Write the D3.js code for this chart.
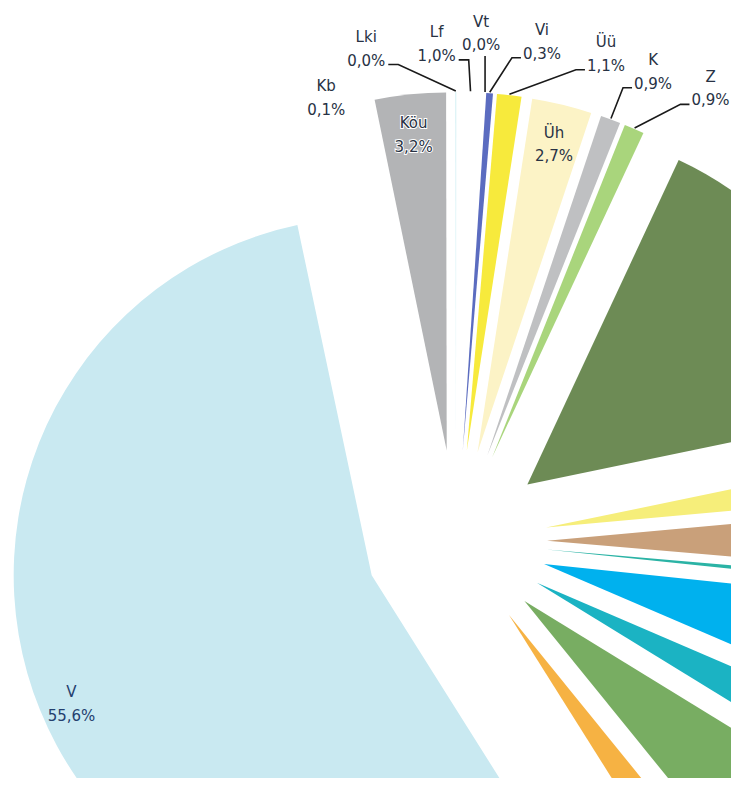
<!DOCTYPE html>
<html>
<head>
<meta charset="utf-8">
<script src="https://cdn.jsdelivr.net/npm/d3@7"></script>
<style>
  body { margin: 0; background: #fff; }
  text { font-family: "DejaVu Sans", Verdana, sans-serif; font-size: 15px; }
</style>
</head>
<body>
<div id="chart"></div>
<script>
// Data (shares in %), clockwise starting from the big "V" slice.
// Names of the slices on the right are outside the cropped picture.
var categories = ["V", "Kb", "Köu", "Lki", "Lf", "Vt", "Vi", "Üü", "Üh", "K", "Z",
                  "s12", "s13", "s14", "s15", "s16", "s17", "s18", "s19"];
var shares = [55.6, 0.1, 3.2, 0.04, 1.0, 0.03, 0.3, 1.1, 2.7, 0.9, 0.9,
              14.8, 1.8, 2.8, 0.3, 4.8, 2.3, 5.4, 1.9];
var colors = ["#c9e9f1", "#ffffff", "#b3b4b6", "#cdeef3", "#ffffff", "#ffffff", "#5b6cc0",
              "#f7ea3c", "#fcf3c6", "#bfc0c2", "#a9d57c",
              "#6d8b55", "#f6ee7a", "#c9a07a", "#2bb3a5", "#00b1ee", "#1bb3c3", "#78ad62", "#f6b243"];
var insideLabels = ["V", "Köu", "Üh"];
// outside labels: [angle deg, distance from pie centre, draw leader]
var outsideLabels = {
  "Kb": [-16.1, 468, false],
  "Lki": [-10.2, 507, true],
  "Lf": [-2.2, 504, true],
  "Vt": [2.8, 515, true],
  "Vi": [9.65, 513, true],
  "Üü": [16.9, 516, true],
  "K": [22.5, 515, true],
  "Z": [29.0, 525, true]
};

var width = 731, height = 786;
var cx = 456, cy = 541;      // pie centre
var radius = 358;
var explode = 91;
var startDeg = 147.8;
var lineGap = 23.5;

var svg = d3.select("#chart").append("svg")
  .attr("width", width)
  .attr("height", height);

svg.append("clipPath").attr("id", "scan")
  .append("rect").attr("x", 0).attr("y", 0).attr("width", width).attr("height", 778);

var g = svg.append("g").attr("clip-path", "url(#scan)");

var pie = d3.pie().sort(null).value(function (d) { return d; })
  .startAngle(startDeg * Math.PI / 180)
  .endAngle(startDeg * Math.PI / 180 + 2 * Math.PI);
var arcs = pie(shares);
var arc = d3.arc().innerRadius(0).outerRadius(radius);

function dir(a) { return [Math.sin(a), -Math.cos(a)]; }
function mid(d) { return (d.startAngle + d.endAngle) / 2; }
function apex(d) {
  var u = dir(mid(d));
  return [cx + explode * u[0], cy + explode * u[1]];
}

g.selectAll("path.slice")
  .data(arcs)
  .enter()
  .append("path")
  .attr("class", "slice")
  .attr("d", arc)
  .attr("transform", function (d) { var p = apex(d); return "translate(" + p[0] + "," + p[1] + ")"; })
  .attr("fill", function (d, i) { return colors[i]; });

var pct = function (v) { return d3.format(".1f")(v).replace(".", ",") + "%"; };

// labels inside the slices
arcs.forEach(function (d, i) {
  var name = categories[i];
  if (insideLabels.indexOf(name) < 0) return;
  var p = apex(d), u = dir(mid(d));
  var x = p[0] + radius * 0.905 * u[0], y = p[1] + radius * 0.905 * u[1];
  var t = g.append("text").attr("text-anchor", "middle")
    .attr("fill", name == "V" ? "#24406e" : "#283244");
  if (name == "Köu") t.attr("stroke", "#fff").attr("stroke-width", 2).attr("paint-order", "stroke");
  t.append("tspan").attr("x", x).attr("y", y).text(name);
  t.append("tspan").attr("x", x).attr("y", y + lineGap).text(pct(shares[i]));
});

// labels outside, with leader lines
arcs.forEach(function (d, i) {
  var name = categories[i];
  var lay = outsideLabels[name];
  if (!lay) return;
  var u = dir(lay[0] * Math.PI / 180);
  var x = cx + lay[1] * u[0], y = cy + lay[1] * u[1];
  var t = g.append("text").attr("text-anchor", "middle").attr("fill", "#283244");
  t.append("tspan").attr("x", x).attr("y", y).text(name);
  t.append("tspan").attr("x", x).attr("y", y + lineGap).text(pct(shares[i]));
  if (!lay[2]) return;

  var w = t.node().getBBox().width;
  var left = x - w / 2, right = x + w / 2;
  var a = apex(d), m = dir(mid(d));
  var pt = [a[0] + (radius + 1) * m[0], a[1] + (radius + 1) * m[1]];
  var ly = y + lineGap - 1;
  var pts;
  if (pt[0] > right + 6) {
    pts = [[right + 3, ly], [right + 13, ly], pt];
  } else if (pt[0] < left - 6) {
    pts = [[left - 2, ly], [left - 11, ly], pt];
  } else {
    pts = [[pt[0], y + lineGap + 6], pt];
  }
  g.append("path")
    .attr("d", d3.line()(pts))
    .attr("fill", "none")
    .attr("stroke", "#1a1a1a")
    .attr("stroke-width", 1.6);
});
</script>
</body>
</html>
